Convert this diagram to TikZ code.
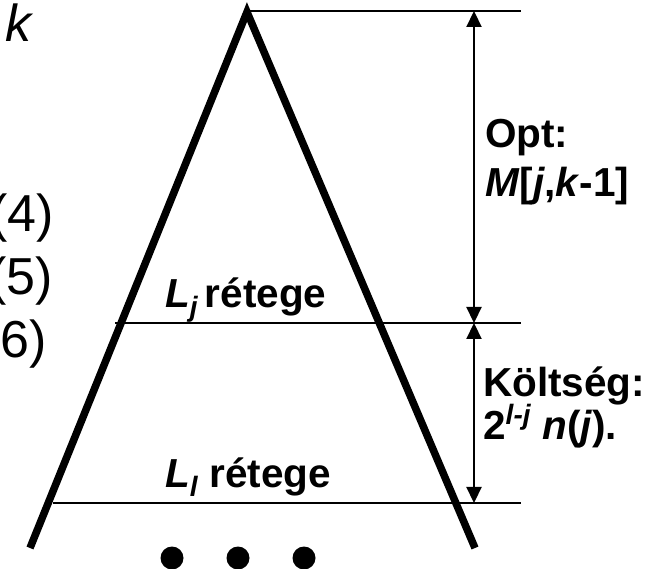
\documentclass[tikz,border=0pt]{standalone}
\usepackage{fontspec}
\setmainfont{Liberation Sans}
\usetikzlibrary{arrows.meta}
\tikzset{
  leg/.style={line width=7.5pt},
  layer/.style={line width=2.2pt},
  dim/.style={line width=2.2pt,{Triangle[length=16pt,width=15pt]}-{Triangle[length=16pt,width=15pt]}},
  lbl/.style={inner sep=0pt,anchor=base west,font=\fontsize{40.5}{44}\selectfont\bfseries},
  big/.style={inner sep=0pt,font=\fontsize{52}{58}\selectfont},
  dot/.style={circle,fill=black,inner sep=0pt,minimum size=23pt}
}
\newcommand{\subj}[1]{{\fontsize{28}{28}\selectfont\raisebox{-9pt}{\textit{#1}}}}
\begin{document}
\begin{tikzpicture}[x=1pt,y=-1pt]
\useasboundingbox (0,0) rectangle (670,569);
% triangle
\coordinate (apex) at (247,12);
\coordinate (bl) at (30,548);
\coordinate (br) at (475,548);
\draw[leg,line join=miter] (bl) -- (apex) -- (br);
% layer lines
\coordinate (t0) at (247,11);
\coordinate (t1) at (521,11);
\coordinate (j0) at (115,323);
\coordinate (j1) at (521,323);
\coordinate (l0) at (53,503);
\coordinate (l1) at (521,503);
\draw[layer] (t0) -- (t1);
\draw[layer] (j0) -- (j1);
\draw[layer] (l0) -- (l1);
% dimension arrows
\coordinate (a0) at (474,11);
\coordinate (a1) at (474,323);
\coordinate (a2) at (474,503);
\draw[dim] (a0) -- (a1);
\draw[dim] (a1) -- (a2);
% labels
\node[lbl] (opt) at (485,148) {Opt:};
\node[lbl] (mjk) at (485,197) {\textit{M}[\textit{j},\textit{k}-1]};
\node[lbl] (kolt) at (483,397) {Költség:};
\node[lbl] (cost) at (483,440) {2\raisebox{15pt}{\fontsize{28}{28}\selectfont\textit{l-j}} \textit{n}(\textit{j}).};
\node[lbl] (lj) at (165,308) {\textit{L}\subj{j}\,rétege};
\node[lbl] (ll) at (165,488) {\textit{L}\subj{l} rétege};
% left texts
\node[big,anchor=base west] (k) at (5,42) {\textit{k}};
\node[big,anchor=base east] (n4) at (54,232) {(4)};
\node[big,anchor=base east] (n5) at (53,295) {(5)};
\node[big,anchor=base east] (n6) at (47,358) {(6)};
% dots
\node[dot] (d1) at (172,558) {};
\node[dot] (d2) at (238,558) {};
\node[dot] (d3) at (304,558) {};
\end{tikzpicture}
\end{document}
